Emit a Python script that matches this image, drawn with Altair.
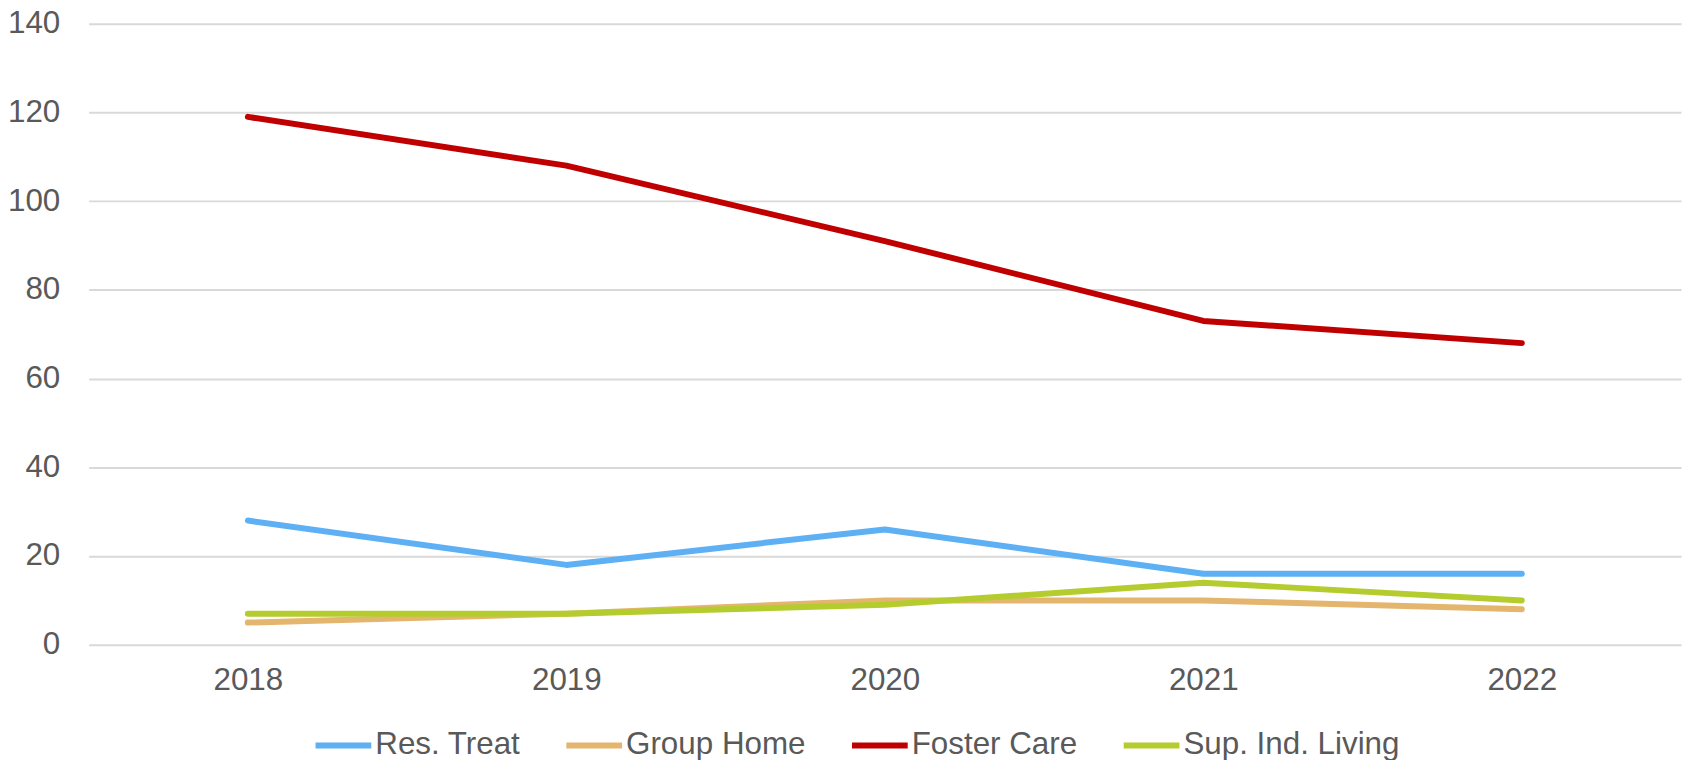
import altair as alt
import pandas as pd

years = ["2018", "2019", "2020", "2021", "2022"]
series = ["Res. Treat", "Group Home", "Foster Care", "Sup. Ind. Living"]
res_treat = [28, 18, 26, 16, 16]
group_home = [5, 7, 10, 10, 8]
foster_care = [119, 108, 91, 73, 68]
sup_ind_living = [7, 7, 9, 14, 10]
colors = ["#5DB0F4", "#E4B56D", "#C00000", "#B5CC2F"]

rows = []
for name, vals in zip(series, [res_treat, group_home, foster_care, sup_ind_living]):
    for y, v in zip(years, vals):
        rows.append({"Year": y, "Series": name, "Value": v})
df = pd.DataFrame(rows)

FONT = "Liberation Sans"
TXT = "#595959"

chart = alt.Chart(df).mark_line(strokeWidth=6, strokeCap="round", strokeJoin="round").encode(
    x=alt.X("Year:O", sort=years,
            scale=alt.Scale(type="point", padding=0.5),
            axis=alt.Axis(title=None, labelAngle=0, ticks=False, domain=False, grid=False,
                          labelFontSize=31.5, labelColor=TXT, labelFont=FONT, labelPadding=20)),
    y=alt.Y("Value:Q",
            scale=alt.Scale(domain=[0, 140], nice=False),
            axis=alt.Axis(title=None, values=[0, 20, 40, 60, 80, 100, 120, 140], ticks=False,
                          domain=False, gridColor="#D9D9D9", gridWidth=2,
                          labelFontSize=31.5, labelColor=TXT, labelFont=FONT, labelPadding=29)),
    color=alt.Color("Series:N", sort=series,
                    scale=alt.Scale(domain=series, range=colors),
                    legend=alt.Legend(title=None, orient="none", direction="horizontal",
                                      legendX=225, legendY=694,
                                      symbolType="stroke", symbolSize=3136, symbolStrokeWidth=6,
                                      labelFontSize=31.5, labelColor=TXT, labelFont=FONT,
                                      labelLimit=500,
                                      labelOffset=1, columnPadding=34)),
    order=alt.Order("Series:N"),
).properties(
    width=1600, height=624,
    autosize=alt.AutoSizeParams(type="none"),
    padding={"left": 81, "top": 14, "right": 5, "bottom": 114},
).configure_view(stroke=None)

chart.save("out.html", embed_options={"renderer": "svg", "actions": False})
